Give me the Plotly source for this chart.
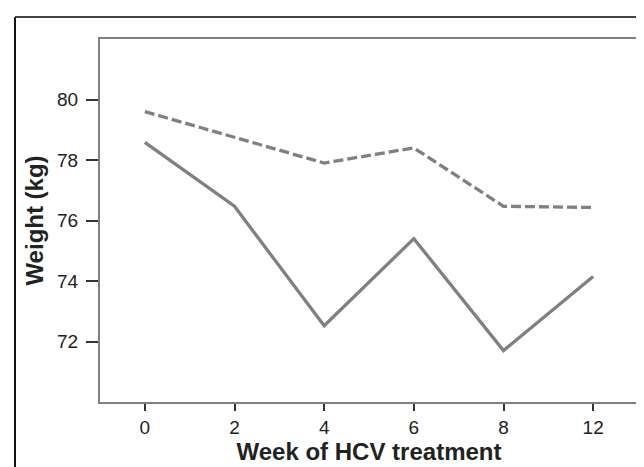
import plotly.graph_objects as go

weeks = ["0", "2", "4", "6", "8", "12"]
weight_dashed = [79.6, 78.75, 77.9, 78.4, 76.47, 76.43]
weight_solid = [78.58, 76.47, 72.52, 75.4, 71.7, 74.15]
y_ticks = [72, 74, 76, 78, 80]

W, H = 644, 467
L, R, T, B = 92, 14, 31, 73
pw, ph = W - L - R, H - T - B

fig = go.Figure()
fig.add_trace(go.Scatter(x=weeks, y=weight_dashed, mode="lines",
                         line=dict(color="#808080", width=3.3, dash="10px,4px"),
                         showlegend=False))
fig.add_trace(go.Scatter(x=weeks, y=weight_solid, mode="lines",
                         line=dict(color="#808080", width=3.3),
                         showlegend=False))

font = "Liberation Sans, Arial, sans-serif"
fig.update_layout(
    width=W, height=H,
    margin=dict(l=L, r=R, t=T, b=B),
    paper_bgcolor="white", plot_bgcolor="white",
    font=dict(family=font, color="#222222"),
    xaxis=dict(type="category", range=[-0.5, 5.5], showgrid=False, zeroline=False,
               showline=True, linecolor="#808080", linewidth=2, mirror=True,
               ticks="outside", ticklen=7, tickwidth=1.5, tickcolor="#333333",
               ticklabelstandoff=0,
               tickfont=dict(size=19, family=font, color="#222222"),
               title=dict(text="<b>Week of HCV treatment</b>", font=dict(size=24, family=font, color="#222222"),
                          standoff=1)),
    yaxis=dict(range=[70, 82], tickvals=y_ticks, showgrid=False, zeroline=False,
               showline=True, linecolor="#808080", linewidth=2, mirror=True,
               ticks="outside", ticklen=12, tickwidth=1.5, tickcolor="#333333",
               ticklabelstandoff=4,
               tickfont=dict(size=19, family=font, color="#222222"),
               title=dict(text="<b>Weight (kg)</b>", font=dict(size=24, family=font, color="#222222"),
                          standoff=7)),
)

# outer frame of the figure (extends beyond right and bottom edges)
x_left = (7 - L) / pw
y_top = (H - B - 9) / ph
fig.add_shape(type="line", xref="paper", yref="paper", x0=x_left, x1=x_left, y0=-0.5, y1=y_top,
              line=dict(color="#111111", width=2))
fig.add_shape(type="line", xref="paper", yref="paper", x0=x_left, x1=1.2, y0=y_top, y1=y_top,
              line=dict(color="#444444", width=2))

fig.write_html("out.html")
